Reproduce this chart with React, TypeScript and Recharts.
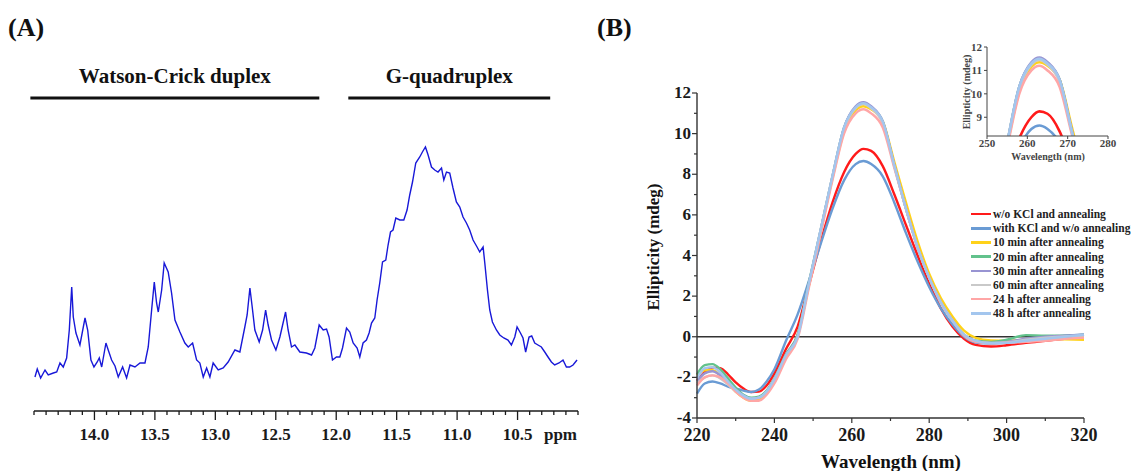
import React from "react";
import { LineChart, Line, XAxis, YAxis, ReferenceLine } from "recharts";

const FONT = "'Liberation Serif', 'Times New Roman', serif";
const INK = "#1a1a1a";

// (A) imino proton region
const nmrPpm = [
  14.492, 14.473, 14.445, 14.409, 14.382, 14.34, 14.312, 14.285, 14.258, 14.23,
  14.208, 14.188, 14.175, 14.153, 14.12, 14.078, 14.056, 14.029, 14.004, 13.977,
  13.96, 13.94, 13.905, 13.886, 13.858, 13.83, 13.803, 13.767, 13.734, 13.706,
  13.665, 13.623, 13.582, 13.555, 13.527, 13.505, 13.486, 13.472, 13.444, 13.423,
  13.39, 13.362, 13.334, 13.293, 13.252, 13.224, 13.188, 13.155, 13.128, 13.1,
  13.072, 13.045, 13.018, 12.976, 12.935, 12.894, 12.838, 12.797, 12.756, 12.737,
  12.714, 12.695, 12.673, 12.637, 12.609, 12.584, 12.563, 12.535, 12.499, 12.466,
  12.419, 12.398, 12.37, 12.342, 12.301, 12.246, 12.204, 12.177, 12.141, 12.108,
  12.08, 12.059, 12.031, 11.998, 11.97, 11.948, 11.915, 11.888, 11.86, 11.827,
  11.805, 11.778, 11.75, 11.728, 11.708, 11.681, 11.662, 11.64, 11.617, 11.59,
  11.571, 11.551, 11.53, 11.507, 11.474, 11.441, 11.414, 11.392, 11.369, 11.342,
  11.309, 11.287, 11.262, 11.24, 11.212, 11.185, 11.158, 11.129, 11.11, 11.088,
  11.061, 11.034, 11.006, 10.978, 10.951, 10.923, 10.896, 10.868, 10.835, 10.813,
  10.785, 10.771, 10.749, 10.73, 10.708, 10.675, 10.647, 10.614, 10.579, 10.551,
  10.523, 10.504, 10.476, 10.455, 10.433, 10.405, 10.383, 10.358, 10.331, 10.303,
  10.275, 10.248, 10.22, 10.193, 10.157, 10.124, 10.096, 10.069, 10.041, 10.008,
];
const nmrIntensity = [
  34, 42, 33, 41, 36, 38, 39, 48, 44, 53,
  81, 124, 94, 78, 66, 93, 81, 51, 44, 49,
  53, 44, 68, 61, 51, 45, 34, 44, 33, 46,
  44, 48, 48, 64, 101, 129, 108, 99, 121, 148,
  139, 118, 91, 79, 68, 64, 68, 51, 48, 34,
  43, 34, 48, 41, 43, 49, 61, 59, 84, 96,
  123, 104, 81, 69, 81, 101, 86, 71, 61, 74,
  99, 81, 64, 66, 59, 58, 56, 63, 86, 81,
  82, 74, 51, 54, 54, 63, 83, 79, 68, 63,
  54, 68, 71, 78, 88, 93, 111, 128, 149, 151,
  166, 179, 181, 193, 191, 191, 201, 216, 229, 248,
  254, 259, 264, 256, 244, 241, 239, 243, 231, 239,
  238, 223, 209, 204, 194, 188, 181, 171, 164, 159,
  164, 148, 121, 101, 89, 81, 76, 73, 71, 66,
  74, 84, 78, 73, 59, 74, 75, 68, 66, 64,
  59, 54, 49, 46, 48, 51, 44, 44, 46, 51,
];
const nmrTicks = [
  14.5, 14.4, 14.3, 14.2, 14.1, 14.0, 13.9, 13.8, 13.7, 13.6, 13.5, 13.4, 13.3, 13.2, 13.1,
  13.0, 12.9, 12.8, 12.7, 12.6, 12.5, 12.4, 12.3, 12.2, 12.1, 12.0, 11.9, 11.8, 11.7, 11.6,
  11.5, 11.4, 11.3, 11.2, 11.1, 11.0, 10.9, 10.8, 10.7, 10.6, 10.5, 10.4, 10.3, 10.2, 10.1, 10.0,
];
const nmrLabels = [14.0, 13.5, 13.0, 12.5, 12.0, 11.5, 11.0, 10.5];
const regionNames = ["Watson-Crick duplex", "G-quadruplex"];
const regionFrom = [14.53, 11.9];
const regionTo = [12.14, 10.23];
const regionLevel = 313;

// (B) CD spectra
const wavelengths = [
  220, 222, 224, 226, 228, 230, 232, 234, 236, 238, 240, 243, 246, 249, 252, 255, 258, 261,
  263, 265, 268, 271, 274, 277, 280, 283, 286, 289, 292, 296, 300, 305, 310, 315, 320,
];
const woKclNoAnneal = [
  -2.15, -1.75, -1.52, -1.55, -1.85, -2.25, -2.55, -2.72, -2.7, -2.4, -1.8, -0.6, 0.5, 2.6, 4.7, 6.6, 8.1, 9.0,
  9.25, 9.15, 8.4, 7.0, 5.5, 4.0, 2.6, 1.4, 0.5, -0.1, -0.4, -0.48, -0.42, -0.3, -0.2, -0.1, -0.05,
];
const kclNoAnneal = [
  -2.8, -2.3, -2.2, -2.3, -2.45, -2.55, -2.65, -2.72, -2.6, -2.2, -1.6, -0.2, 1.1, 2.8, 4.6, 6.3, 7.7, 8.5,
  8.65, 8.5, 7.9, 6.6, 5.1, 3.7, 2.45, 1.4, 0.6, 0.0, -0.28, -0.33, -0.28, -0.15, -0.05, 0.05, 0.1,
];
const after10min = [
  -1.9, -1.65, -1.65, -1.9, -2.3, -2.7, -3.0, -3.15, -3.1, -2.8, -2.2, -1.0, 0.1, 2.6, 5.2, 7.8, 10.1, 11.15,
  11.35, 11.2, 10.6, 8.6, 6.6, 4.7, 3.1, 1.9, 1.0, 0.3, -0.05, -0.18, -0.2, -0.15, -0.1, -0.12, -0.15,
];
const after20min = [
  -1.85, -1.4, -1.35, -1.6, -2.05, -2.5, -2.85, -3.0, -2.95, -2.65, -2.05, -0.85, 0.1, 2.75, 5.3, 7.9, 10.3, 11.3,
  11.5, 11.3, 10.6, 8.4, 6.3, 4.4, 2.9, 1.7, 0.8, 0.1, -0.2, -0.25, -0.15, 0.08, 0.05, 0.05, 0.1,
];
const after30min = [
  -2.2, -1.8, -1.7, -1.9, -2.25, -2.6, -2.9, -3.05, -3.0, -2.7, -2.1, -0.9, 0.05, 2.7, 5.3, 7.9, 10.3, 11.35,
  11.55, 11.35, 10.6, 8.45, 6.3, 4.4, 2.9, 1.7, 0.8, 0.1, -0.2, -0.3, -0.25, -0.1, 0.0, 0.05, 0.1,
];
const after60min = [
  -2.3, -2.0, -1.9, -2.05, -2.35, -2.7, -2.95, -3.05, -3.0, -2.7, -2.1, -0.95, 0.0, 2.65, 5.25, 7.85, 10.2, 11.25,
  11.45, 11.25, 10.5, 8.4, 6.3, 4.4, 2.9, 1.7, 0.8, 0.1, -0.22, -0.3, -0.28, -0.15, -0.05, 0.02, 0.05,
];
const after24h = [
  -2.4, -2.0, -1.9, -2.0, -2.3, -2.7, -3.0, -3.15, -3.15, -2.85, -2.3, -1.1, -0.1, 2.5, 5.1, 7.7, 10.0, 11.0,
  11.2, 11.0, 10.3, 8.3, 6.3, 4.4, 2.9, 1.7, 0.8, 0.05, -0.25, -0.32, -0.3, -0.25, -0.2, -0.1, -0.05,
];
const after48h = [
  -2.05, -1.55, -1.5, -1.75, -2.2, -2.6, -2.9, -3.05, -3.0, -2.7, -2.1, -0.9, 0.0, 2.7, 5.3, 7.9, 10.3, 11.3,
  11.5, 11.3, 10.6, 8.4, 6.3, 4.4, 2.9, 1.7, 0.8, 0.1, -0.2, -0.32, -0.3, -0.2, -0.1, 0.0, 0.1,
];

const cdSeries = [
  { key: "s0", name: "w/o KCl and annealing", color: "#ff1a1a", values: woKclNoAnneal },
  { key: "s1", name: "with KCl and w/o annealing", color: "#6a9bd4", values: kclNoAnneal },
  { key: "s2", name: "10 min after annealing", color: "#ffd21a", values: after10min },
  { key: "s3", name: "20 min after annealing", color: "#62c28c", values: after20min },
  { key: "s4", name: "30 min after annealing", color: "#9894d2", values: after30min },
  { key: "s5", name: "60 min after annealing", color: "#c9c9c9", values: after60min },
  { key: "s6", name: "24 h after annealing", color: "#ffa6a6", values: after24h },
  { key: "s7", name: "48 h after annealing", color: "#a3c6ee", values: after48h },
];
const cdXTicks = [220, 230, 240, 250, 260, 270, 280, 290, 300, 310, 320];
const cdYTicks = [-4, -3, -2, -1, 0, 1, 2, 3, 4, 5, 6, 7, 8, 9, 10, 11, 12];
const insetXTicks = [250, 260, 270, 280];
const insetYTicks = [9, 10, 11, 12];

const nmrData = nmrPpm.map((ppm, i) => ({ ppm, intensity: nmrIntensity[i] }));
const cdData = wavelengths.map((nm, i) => {
  const row: Record<string, number> = { nm };
  cdSeries.forEach((s) => (row[s.key] = s.values[i]));
  return row;
});

const NmrTick = ({ x, y, payload }: any) => {
  const v = payload.value as number;
  const major = nmrLabels.some((m) => Math.abs(m - v) < 1e-6);
  const last = Math.abs(v - 10) < 1e-6;
  return (
    <g>
      <line x1={x} x2={x} y1={y} y2={y + (major ? 9 : 4)} stroke={INK} strokeWidth={1.3} />
      {major && (
        <text x={x} y={y + 29} textAnchor="middle" fontFamily={FONT} fontWeight="bold" fontSize={17} fill={INK}>
          {v.toFixed(1)}
        </text>
      )}
      {last && (
        <text x={x - 1} y={y + 29} textAnchor="end" fontFamily={FONT} fontWeight="bold" fontSize={17} fill={INK}>
          ppm
        </text>
      )}
    </g>
  );
};

const CdXTick = ({ x, y, payload }: any) => {
  const v = payload.value as number;
  const major = v % 20 === 0;
  return (
    <g>
      <line x1={x} x2={x} y1={y} y2={y + (major ? 5 : 3)} stroke="#333" strokeWidth={1.2} />
      {major && (
        <text x={x} y={y + 23} textAnchor="middle" fontFamily={FONT} fontWeight="bold" fontSize={18} fill={INK}>
          {v}
        </text>
      )}
    </g>
  );
};

const CdYTick = ({ x, y, payload }: any) => {
  const v = payload.value as number;
  const major = v % 2 === 0;
  return (
    <g>
      <line x1={x - (major ? 5 : 3)} x2={x} y1={y} y2={y} stroke="#333" strokeWidth={1.2} />
      {major && (
        <text x={x - 6} y={y + 5} textAnchor="end" fontFamily={FONT} fontWeight="bold" fontSize={17} fill={INK}>
          {v}
        </text>
      )}
    </g>
  );
};

const InsetXTick = ({ x, y, payload }: any) => (
  <g>
    <line x1={x} x2={x} y1={y} y2={y + 3} stroke="#444" strokeWidth={1} />
    <text x={x} y={y + 11} textAnchor="middle" fontFamily={FONT} fontWeight="bold" fontSize={11} fill="#444">
      {payload.value}
    </text>
  </g>
);

const InsetYTick = ({ x, y, payload }: any) => (
  <g>
    <line x1={x - 3} x2={x} y1={y} y2={y} stroke="#444" strokeWidth={1} />
    <text x={x - 5} y={y + 4} textAnchor="end" fontFamily={FONT} fontWeight="bold" fontSize={11} fill="#444">
      {payload.value}
    </text>
  </g>
);

export default function App() {
  return (
    <div style={{ position: "absolute", left: 0, top: 0, width: 1131, height: 471, background: "#fff" }}>
      {/* (A) NMR */}
      <div style={{ position: "absolute", left: 0, top: 0 }}>
        <LineChart width={600} height={471} data={nmrData} margin={{ top: 141, right: 22, bottom: 0, left: 34 }}>
          <XAxis
            dataKey="ppm"
            type="number"
            domain={[10, 14.5]}
            reversed
            ticks={nmrTicks}
            interval={0}
            tickSize={0}
            tickMargin={0}
            tickLine={false}
            tick={(p: any) => <NmrTick {...p} />}
            height={60}
            axisLine={{ stroke: INK, strokeWidth: 1.5 }}
          />
          <YAxis hide width={0} domain={[0, 270]} />
          {regionNames.map((name, i) => (
            <ReferenceLine
              key={name}
              ifOverflow="visible"
              segment={[
                { x: regionFrom[i], y: regionLevel },
                { x: regionTo[i], y: regionLevel },
              ]}
              stroke="#111"
              strokeWidth={3}
              label={{
                value: name,
                position: "top",
                offset: 15,
                fill: "#111",
                fontSize: 21,
                fontWeight: "bold",
                fontFamily: FONT,
              }}
            />
          ))}
          <Line
            dataKey="intensity"
            type="linear"
            stroke="#1818d8"
            strokeWidth={1.4}
            dot={false}
            isAnimationActive={false}
          />
        </LineChart>
      </div>

      {/* (B) CD */}
      <div style={{ position: "absolute", left: 600, top: 0 }}>
        <LineChart width={531} height={471} data={cdData} margin={{ top: 93, right: 47, bottom: 0, left: 0 }}>
          <XAxis
            dataKey="nm"
            type="number"
            domain={[220, 320]}
            ticks={cdXTicks}
            interval={0}
            tickSize={0}
            tickMargin={0}
            tickLine={false}
            tick={(p: any) => <CdXTick {...p} />}
            height={53}
            axisLine={{ stroke: "#333", strokeWidth: 1.4 }}
          />
          <YAxis
            type="number"
            domain={[-4, 12]}
            ticks={cdYTicks}
            interval={0}
            tickSize={0}
            tickMargin={0}
            tickLine={false}
            tick={(p: any) => <CdYTick {...p} />}
            width={97}
            axisLine={{ stroke: "#333", strokeWidth: 1.4 }}
          />
          <ReferenceLine y={0} stroke="#333" strokeWidth={1.3} />
          {cdSeries.map((s) => (
            <Line
              key={s.key}
              dataKey={s.key}
              name={s.name}
              type="monotone"
              stroke={s.color}
              strokeWidth={2.4}
              dot={false}
              isAnimationActive={false}
            />
          ))}
        </LineChart>
      </div>

      {/* inset: zoom on the 263 nm band */}
      <div style={{ position: "absolute", left: 940, top: 30 }}>
        <LineChart width={190} height={140} data={cdData} margin={{ top: 17, right: 22, bottom: 0, left: 0 }}>
          <XAxis
            dataKey="nm"
            type="number"
            domain={[250, 280]}
            allowDataOverflow
            ticks={insetXTicks}
            interval={0}
            tickSize={0}
            tickMargin={0}
            tickLine={false}
            tick={(p: any) => <InsetXTick {...p} />}
            height={34}
            axisLine={{ stroke: "#444", strokeWidth: 1 }}
          />
          <YAxis
            type="number"
            domain={[8.2, 12]}
            allowDataOverflow
            ticks={insetYTicks}
            interval={0}
            tickSize={0}
            tickMargin={0}
            tickLine={false}
            tick={(p: any) => <InsetYTick {...p} />}
            width={47}
            axisLine={{ stroke: "#444", strokeWidth: 1 }}
          />
          {cdSeries.map((s) => (
            <Line
              key={s.key}
              dataKey={s.key}
              type="monotone"
              stroke={s.color}
              strokeWidth={2.6}
              dot={false}
              isAnimationActive={false}
            />
          ))}
        </LineChart>
      </div>

      {/* legend */}
      <div
        style={{
          position: "absolute",
          left: 971,
          top: 207,
          fontFamily: FONT,
          fontWeight: "bold",
          fontSize: 11.5,
          color: "#222",
          whiteSpace: "nowrap",
        }}
      >
        {cdSeries.map((s) => (
          <div key={s.key} style={{ display: "flex", alignItems: "center", height: 14.2 }}>
            <span style={{ display: "inline-block", width: 20, height: 2.5, background: s.color, marginRight: 2 }} />
            {s.name}
          </div>
        ))}
      </div>

      {/* panel letters and axis titles */}
      <svg width={1131} height={471} style={{ position: "absolute", left: 0, top: 0, pointerEvents: "none" }}>
        <g fontFamily={FONT} fontWeight="bold" fill="#111">
          <text x={8} y={36} fontSize={26}>(A)</text>
          <text x={597} y={36} fontSize={26}>(B)</text>
          <text x={891} y={468} fontSize={19} textAnchor="middle">Wavelength (nm)</text>
          <text transform="translate(659,247) rotate(-90)" fontSize={17} textAnchor="middle">
            Ellipticity (mdeg)
          </text>
          <text x={1048} y={160} fontSize={10} textAnchor="middle" fill="#444">Wavelength (nm)</text>
          <text transform="translate(970,92) rotate(-90)" fontSize={10} textAnchor="middle" fill="#444">
            Ellipticity (mdeg)
          </text>
        </g>
      </svg>
    </div>
  );
}
